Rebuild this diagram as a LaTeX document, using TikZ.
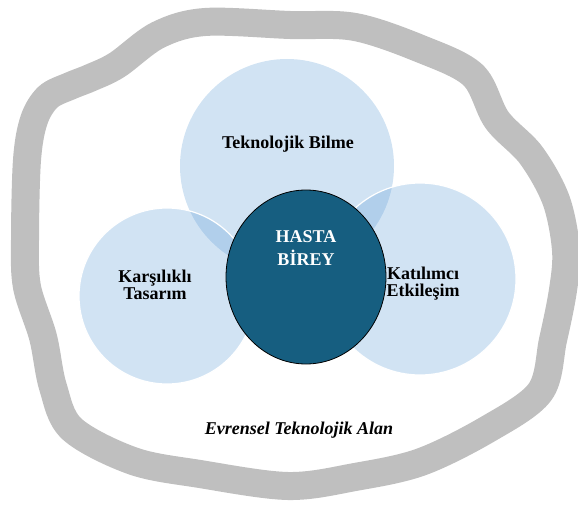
\documentclass[tikz,border=0pt]{standalone}
\usepackage{fontspec}
\setmainfont{Liberation Serif}
\usepackage{tikz}
\usetikzlibrary{shapes.geometric}
\definecolor{zone}{RGB}{191,191,191}
\definecolor{bubble}{RGB}{91,155,213}
\definecolor{core}{RGB}{22,94,128}

\begin{document}
\begin{tikzpicture}[x=1pt,y=-1pt]
\tikzstyle{every node}+=[inner sep=0pt]
\tikzstyle{part}=[circle, fill=bubble, fill opacity=0.28]
\tikzstyle{rim}=[draw=white, line width=1.2pt]
\tikzstyle{lbl}=[align=center, anchor=base, font=\fontsize{18}{17.3}\selectfont\bfseries]
\useasboundingbox (0,0) rectangle (578,508);
\draw [zone, line width=28pt, line join=round] plot [smooth cycle, tension=0.55] coordinates {
 (205,22) (290,25) (355,27) (421,49) (473,75) (497,120) (531,155) (556,200)
 (566,250) (563,290) (553,340) (540,392) (488,429) (421,462) (355,477) (288,486)
 (200,474) (133,461) (72,429) (53,387) (43,337) (27,287) (25,240) (27,160)
 (34,120) (48,97) (70,86) (90,78) (117,65) (158,35)};
\node [part, minimum size=214pt] (bilme) at (287,166) {};
\node [part, rim, minimum size=176pt] (tasarim) at (167,296) {};
\node [part, rim, minimum size=192pt] (etkilesim) at (420,279) {};
\node [ellipse, draw=black, fill=core, line width=0.8pt, minimum width=160pt, minimum height=174pt] (hasta) at (306,277) {};
\node [lbl] (bilme text) at (288,148) {Teknolojik Bilme};
\node [lbl] (tasarim text) at (155,299.5) {Karşılıklı\\Tasarım};
\node [lbl] (etkilesim text) at (423,296.5) {Katılımcı\\Etkileşim};
\node [lbl, text=white, font=\fontsize{18}{23}\selectfont\bfseries] (hasta text) at (306,265) {HASTA\\BİREY};
\node [lbl, font=\fontsize{18}{18}\selectfont\bfseries\itshape] (alan text) at (299,434) {Evrensel Teknolojik Alan};
\end{tikzpicture}
\end{document}
